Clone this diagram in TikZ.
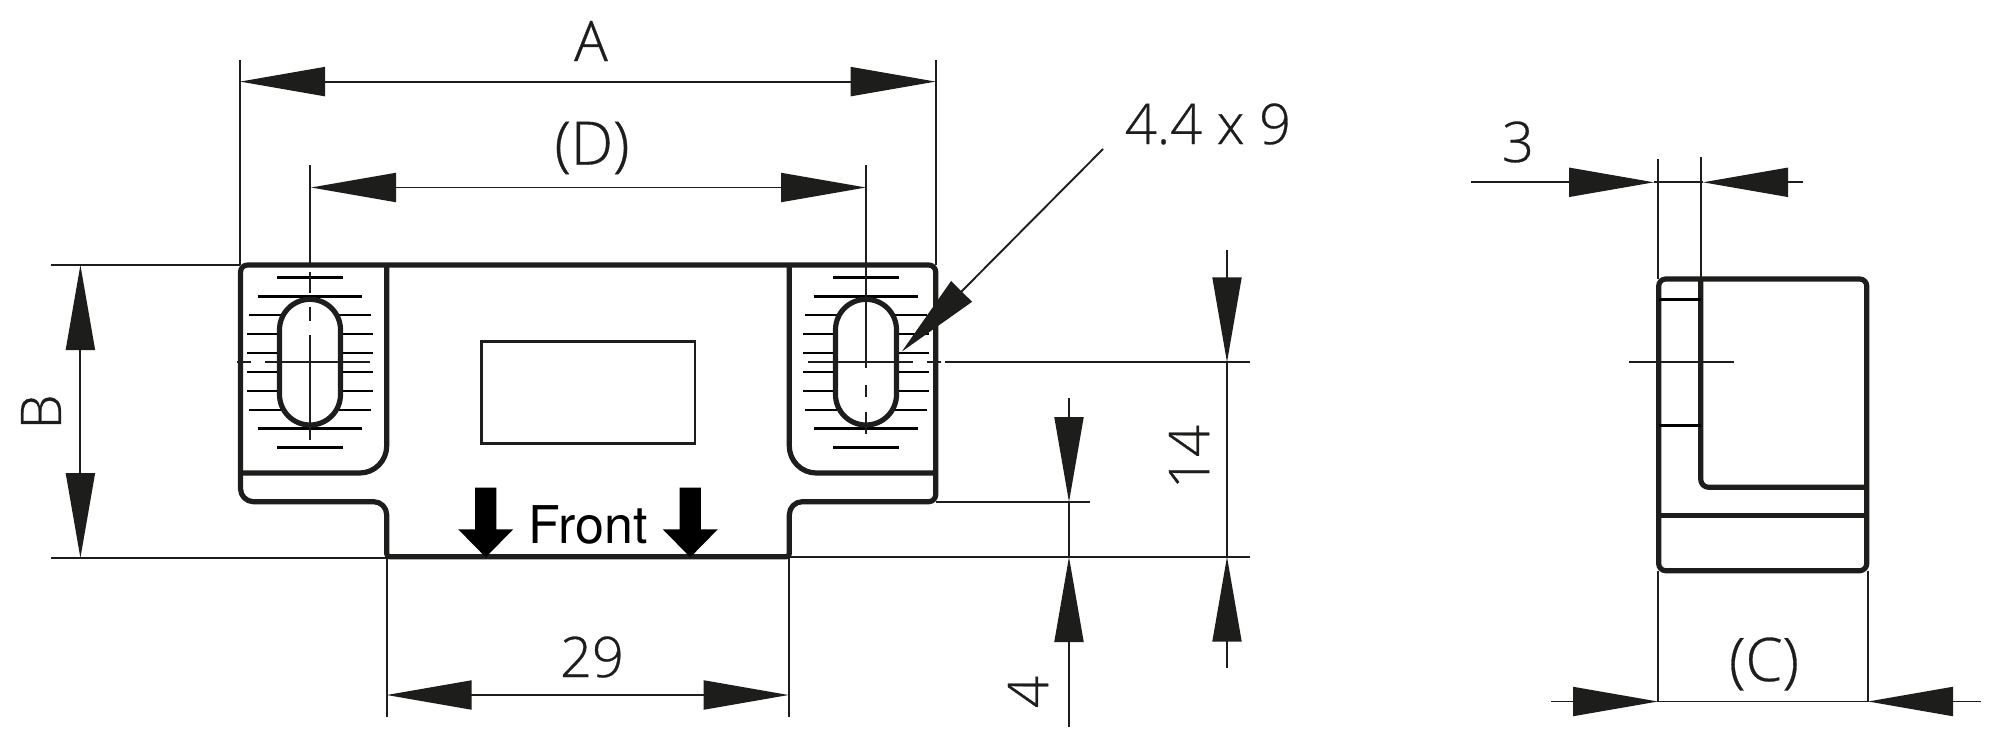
\documentclass[tikz,border=0pt]{standalone}
\usepackage{fontspec}
\setmainfont{TeX Gyre Heros}
\newfontfamily\lightfont[FakeBold=0.5]{Open Sans Light}
\usetikzlibrary{arrows.meta}
\definecolor{ink}{HTML}{1D1D1B}
\tikzset{
  heavy/.style={draw=ink,line width=5.2pt,line join=round},
  fine/.style={draw=ink,line width=1.9pt},
  hatch/.style={draw=black,line width=2.4pt},
  dimtip/.style={-{Triangle[length=85pt,width=29pt,color=ink]}},
  dimtips/.style={{Triangle[length=85pt,width=29pt,color=ink]}-{Triangle[length=85pt,width=29pt,color=ink]}},
  label/.style={font=\lightfont\fontsize{56}{56}\selectfont,text=ink,inner sep=0pt},
  widelabel/.style={label,font=\lightfont\fontsize{60}{60}\selectfont},
}
\newcommand{\slotview}[1]{%
  \foreach \dy/\hw in {277.3/33,296.3/52.4,315/60.8,334/62.8,352.7/62.8,371.7/62.8,390.7/62.8,409.7/60.8,428.3/52.4,447.3/33}{
    \draw[hatch] (#1-\hw,\dy) -- (#1+\hw,\dy);
  }
  \draw[heavy,fill=white,rounded corners=30.5pt] (#1-30.5,299.3) rectangle (#1+30.5,425);
}
\begin{document}
\begin{tikzpicture}[x=1pt,y=-1pt]
\useasboundingbox (0,0) rectangle (2000,750);
% key coordinates
\coordinate (lft) at (240,265);
\coordinate (rgt) at (935.7,265);
\coordinate (nl) at (386.7,558);
\coordinate (nr) at (788.7,556.7);

% --- extension lines
\draw[fine] (240,60) -- (lft);
\draw[fine] (935.7,60) -- (rgt);
\draw[fine] (310,165) -- (310,265);
\draw[fine] (866,165) -- (866,265);
\draw[fine] (51,265) -- (lft);
\draw[fine] (51,558) -- (nl);
\draw[fine] (nl) -- (386.7,717);
\draw[fine] (nr) -- (788.7,717);
\draw[fine] (nr) -- (1250,556.7);
\draw[fine] (935.7,502) -- (1090,502);
\draw[fine] (926.7,362.3) -- (941,362.3);
\draw[fine] (945,362.3) -- (1250,362.3);
\draw[fine] (237,362.3) -- (250.7,362.3);

% --- slot views
\slotview{310}
\slotview{866}
\draw[fine,line width=2.2pt] (265,362.3) -- (370,362.3);
\draw[fine,line width=2.2pt] (807.7,362.3) -- (912.7,362.3);
\draw[fine,line width=2.2pt] (310,272) -- (310,292.7) (310,306.7) -- (310,321) (310,335) -- (310,440);
\draw[fine,line width=2.2pt] (866,265) -- (866,368) (866,385) -- (866,397) (866,411.7) -- (866,434);

% --- body outline
\draw[heavy] (386.7,530) [rounded corners=13pt] -- (386.7,501.7) -- (240.5,501.7) [rounded corners=7pt] -- (240.5,265) -- (935.7,265) -- (935.7,501.7) [rounded corners=13pt] -- (789.3,501.7) -- (789.3,530) [rounded corners=3pt] -- (789.3,556.7) -- (386.7,556.7) -- (386.7,530);
\draw[heavy] (386.7,265) [rounded corners=27pt] -- (386.7,473) [sharp corners] -- (240.5,473);
\draw[heavy] (789.3,265) [rounded corners=27pt] -- (789.3,473) [sharp corners] -- (935.7,473);
\draw[ink,line width=2.6pt] (481.3,341.3) rectangle (695,443.5);

% --- Front markers
\foreach \ax in {485.7,690.3}{
  \fill[black] (\ax-10.6,487.7) -- (\ax+10.6,487.7) -- (\ax+10.6,529.3) -- (\ax+27.5,529.3) -- (\ax,557.3) -- (\ax-27.5,529.3) -- (\ax-10.6,529.3) -- cycle;
}
\node[font=\fontsize{52}{52}\selectfont,text=black,inner sep=0pt,anchor=base] (front) at (588,543.3) {Front};

% --- dimension A
\coordinate (a1) at (240,81.6); \coordinate (a2) at (935.7,81.6);
\draw[fine,dimtips] (a1) -- (a2);
\node[label] (la) at (591,41) {A};
% --- dimension (D)
\coordinate (d1) at (311,187.5); \coordinate (d2) at (866,187.5);
\draw[fine,dimtips] (d1) -- (d2);
\node[widelabel] (ld) at (592,148) {(D)};
% --- dimension B
\coordinate (b1) at (80.4,265); \coordinate (b2) at (80.4,558);
\draw[fine,dimtips] (b1) -- (b2);
\node[label,rotate=90] (lb) at (41,412) {B};
% --- dimension 29
\coordinate (n1) at (386.7,695); \coordinate (n2) at (788.7,695);
\draw[fine,dimtips] (n1) -- (n2);
\node[label] (l29) at (592,657) {29};
% --- dimension 14
\coordinate (e1) at (1227,250); \coordinate (e2) at (1227,362.3);
\coordinate (e3) at (1227,668); \coordinate (e4) at (1227,556.7);
\draw[fine,dimtip] (e1) -- (e2);
\draw[fine,dimtip] (e3) -- (e4);
\draw[fine] (e2) -- (e4);
\node[label,rotate=90] (l14) at (1189,457) {14};
% --- dimension 4
\coordinate (f1) at (1069,398); \coordinate (f2) at (1069,502);
\coordinate (f3) at (1069,727); \coordinate (f4) at (1069,557);
\draw[fine,dimtip] (f1) -- (f2);
\draw[fine,dimtip] (f3) -- (f4);
\draw[fine] (f2) -- (f4);
\node[label,rotate=90] (l4) at (1028,692) {4};
% --- slot callout
\coordinate (c1) at (1103,149); \coordinate (c2) at (901.7,351.7);
\draw[fine,dimtip] (c1) -- (c2);
\node[label] (lc) at (1208,124) {4.4 x 9};

% --- side view
\draw[heavy,rounded corners=7pt] (1658.7,279) rectangle (1866.7,570.7);
\draw[heavy] (1700.7,279) [rounded corners=8pt] -- (1700.7,487.3) [sharp corners] -- (1866.7,487.3);
\draw[heavy] (1658.7,515.3) -- (1866.7,515.3);
\draw[black,line width=3pt] (1659,299.7) -- (1701,299.7) (1659,425) -- (1701,425);
\draw[fine] (1629,362) -- (1734,362);
\draw[fine] (1658,158.7) -- (1658,279);
\draw[fine] (1701,157) -- (1701,279);
\draw[fine] (1658,570.7) -- (1658,701.5);
\draw[fine] (1868,570.7) -- (1868,701.5);
% --- dimension 3
\coordinate (g1) at (1471,182.3); \coordinate (g2) at (1654,182.3);
\coordinate (g3) at (1803,182.3); \coordinate (g4) at (1703,182.3);
\draw[fine,dimtip] (g1) -- (g2);
\draw[fine,dimtip] (g3) -- (g4);
\draw[fine] (g2) -- (g4);
\node[label] (l3) at (1518,142) {3};
% --- dimension (C)
\coordinate (h1) at (1551,701.5); \coordinate (h2) at (1658,701.5);
\coordinate (h3) at (1981,701.5); \coordinate (h4) at (1868,701.5);
\draw[fine,dimtip] (h1) -- (h2);
\draw[fine,dimtip] (h3) -- (h4);
\draw[fine] (h2) -- (h4);
\node[widelabel] (lcc) at (1764,664) {(C)};
\end{tikzpicture}
\end{document}
